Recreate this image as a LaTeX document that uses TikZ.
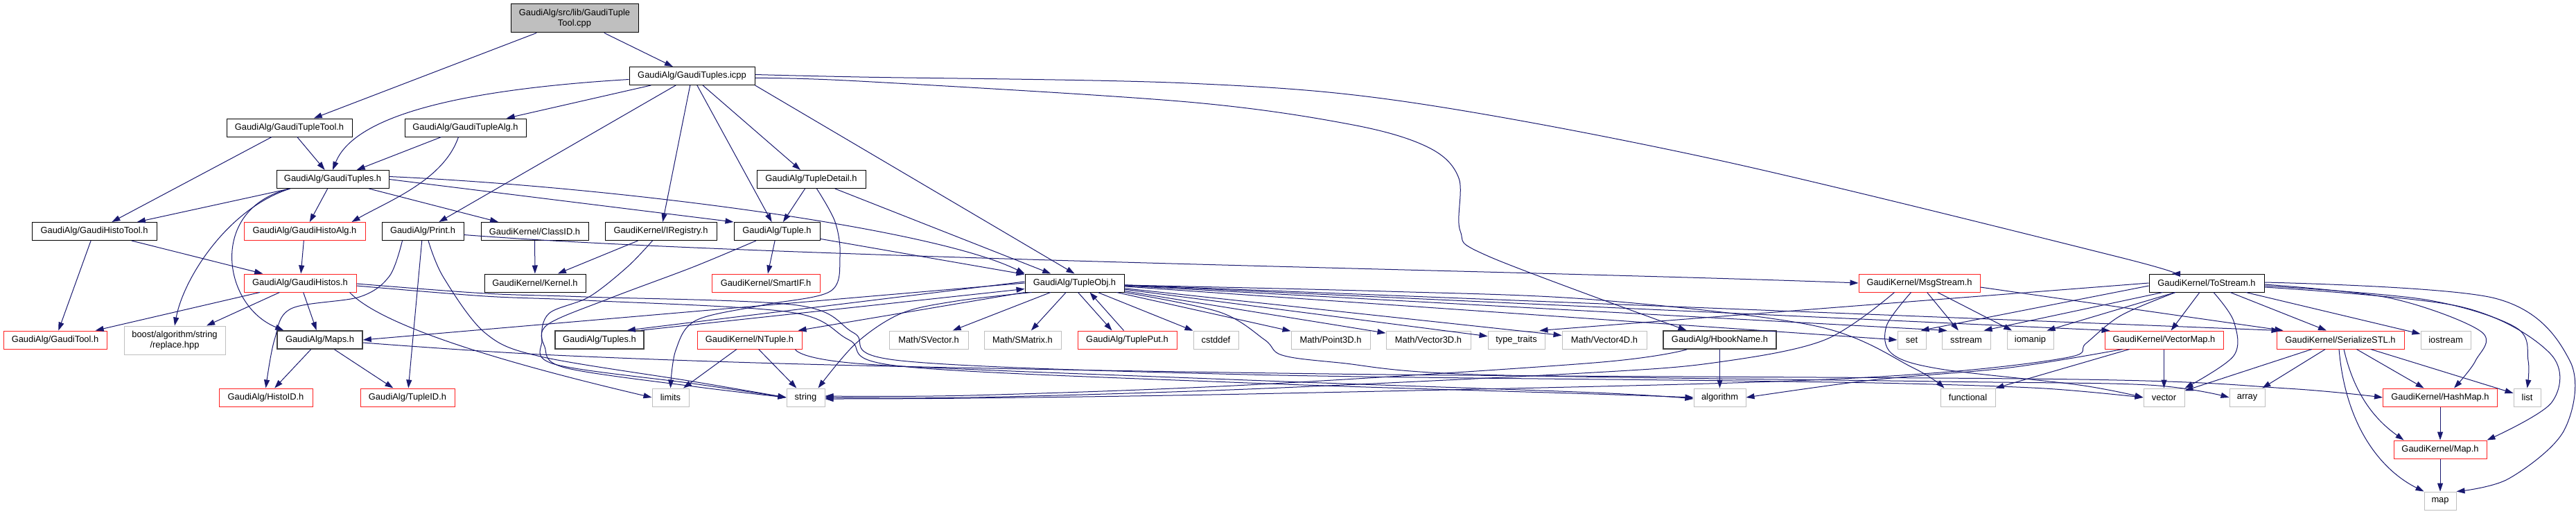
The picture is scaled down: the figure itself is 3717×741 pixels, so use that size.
\documentclass[tikz,border=0pt]{standalone}
\usepackage{fontspec}
\setmainfont{Liberation Sans}
\usetikzlibrary{arrows.meta}
\definecolor{edgec}{HTML}{191970}
\definecolor{redb}{HTML}{FF2020}
\definecolor{grayb}{HTML}{BFBFBF}
\definecolor{darkb}{HTML}{404040}
\definecolor{rootf}{HTML}{BFBFBF}
\newcommand\nodefont{\fontsize{12.9}{15}\selectfont}
\begin{document}
\begin{tikzpicture}[x=1pt,y=-1pt,
  nb/.style={draw=black, line width=1pt, inner sep=0pt, minimum height=26pt, font=\nodefont, fill=white},
  rb/.style={nb, draw=redb},
  gb/.style={nb, draw=grayb},
  db/.style={nb, draw=darkb, line width=1.6pt},
  e/.style={draw=edgec, line width=1pt, -{Triangle[length=12pt,width=8pt]}},
  sm/.style={smooth, tension=0.55}]
\fill[white] (0,0) rectangle (3717,741);
\useasboundingbox (0,0) rectangle (3717,741);
% ---------- nodes ----------
\node[nb, fill=rootf, minimum width=184pt, minimum height=41pt, align=center] (root) at (829,26.5) {GaudiAlg/src/lib/GaudiTuple\\Tool.cpp};
\node[nb, minimum width=181pt] (icpp) at (998.5,109.5) {GaudiAlg/GaudiTuples.icpp};
\node[nb, minimum width=181pt] (tupletool) at (417.5,184) {GaudiAlg/GaudiTupleTool.h};
\node[nb, minimum width=175pt] (tuplealg) at (671.5,184) {GaudiAlg/GaudiTupleAlg.h};
\node[nb, minimum width=162pt] (tuplesh) at (480,258.5) {GaudiAlg/GaudiTuples.h};
\node[nb, minimum width=157pt] (detail) at (1170.5,258.5) {GaudiAlg/TupleDetail.h};
\node[nb, minimum width=180pt] (histotool) at (136,333.5) {GaudiAlg/GaudiHistoTool.h};
\node[rb, minimum width=175pt] (histoalg) at (439.5,333.5) {GaudiAlg/GaudiHistoAlg.h};
\node[nb, minimum width=118pt] (print) at (610,333.5) {GaudiAlg/Print.h};
\node[nb, minimum width=155pt] (classid) at (771.5,333.5) {GaudiKernel/ClassID.h};
\node[nb, minimum width=161pt] (iregistry) at (953.5,333.5) {GaudiKernel/IRegistry.h};
\node[nb, minimum width=124pt] (tuple) at (1121,333.5) {GaudiAlg/Tuple.h};
\node[rb, minimum width=162pt] (histos) at (433,408) {GaudiAlg/GaudiHistos.h};
\node[nb, minimum width=146pt] (kernel) at (772,408) {GaudiKernel/Kernel.h};
\node[rb, minimum width=156pt] (smartif) at (1105,408) {GaudiKernel/SmartIF.h};
\node[nb, minimum width=143pt] (tupleobj) at (1550.5,408) {GaudiAlg/TupleObj.h};
\node[rb, minimum width=175pt] (msgstream) at (2769.5,408) {GaudiKernel/MsgStream.h};
\node[nb, minimum width=166pt] (tostream) at (3184,408) {GaudiKernel/ToStream.h};
\node[rb, minimum width=149pt] (gauditool) at (79.5,490) {GaudiAlg/GaudiTool.h};
\node[gb, minimum width=146pt, minimum height=41pt, align=center] (boost) at (252,490.5) {boost/algorithm/string\\/replace.hpp};
\node[db, minimum width=123pt] (maps) at (461.5,490) {GaudiAlg/Maps.h};
\node[db, minimum width=128pt] (tuplesdot) at (865,490) {GaudiAlg/Tuples.h};
\node[rb, minimum width=151pt] (ntuple) at (1081.5,490) {GaudiKernel/NTuple.h};
\node[gb, minimum width=114pt] (svector) at (1340,490) {Math/SVector.h};
\node[gb, minimum width=111pt] (smatrix) at (1475.5,490) {Math/SMatrix.h};
\node[rb, minimum width=143pt] (tupleput) at (1626.5,490) {GaudiAlg/TuplePut.h};
\node[gb, minimum width=65pt] (cstddef) at (1754.5,490) {cstddef};
\node[gb, minimum width=114pt] (point3d) at (1920,490) {Math/Point3D.h};
\node[gb, minimum width=122pt] (vector3d) at (2061,490) {Math/Vector3D.h};
\node[gb, minimum width=82pt] (typetraits) at (2188,490) {type\_traits};
\node[gb, minimum width=122pt] (vector4d) at (2315,490) {Math/Vector4D.h};
\node[db, minimum width=163pt] (hbook) at (2481.5,490) {GaudiAlg/HbookName.h};
\node[gb, minimum width=41pt] (set) at (2758.5,490) {set};
\node[gb, minimum width=70pt] (sstream) at (2837,490) {sstream};
\node[gb, minimum width=67pt] (iomanip) at (2929.5,490) {iomanip};
\node[rb, minimum width=171pt] (vectormap) at (3122.5,490) {GaudiKernel/VectorMap.h};
\node[rb, minimum width=184pt] (serialize) at (3377,490) {GaudiKernel/SerializeSTL.h};
\node[gb, minimum width=72pt] (iostream) at (3529,490) {iostream};
\node[rb, minimum width=135pt] (histoid) at (383.5,573) {GaudiAlg/HistoID.h};
\node[rb, minimum width=136pt] (tupleid) at (588,573) {GaudiAlg/TupleID.h};
\node[gb, minimum width=53pt] (limits) at (967.5,573) {limits};
\node[gb, minimum width=55pt] (string) at (1162.5,573) {string};
\node[gb, minimum width=75pt] (algorithm) at (2481.5,573) {algorithm};
\node[gb, minimum width=79pt] (functional) at (2839.5,573) {functional};
\node[gb, minimum width=59pt] (vector) at (3122.5,573) {vector};
\node[gb, minimum width=51pt] (array) at (3242.5,573) {array};
\node[rb, minimum width=165pt] (hashmap) at (3521,573) {GaudiKernel/HashMap.h};
\node[gb, minimum width=39pt] (list) at (3646.5,573) {list};
\node[rb, minimum width=134pt] (mapH) at (3521,648) {GaudiKernel/Map.h};
\node[gb, minimum width=46pt] (map) at (3521,722) {map};
% ---------- edges ----------
\draw[e] (root) -- (tupletool);
\draw[e] (root) -- (icpp);
% icpp
\draw[e] ([yshift=-5pt]icpp.west) .. controls (650,130) and (510,170) .. (tuplesh.north);
\draw[e] (icpp) -- (tuplealg);
\draw[e] (icpp) -- (print);
\draw[e] (icpp) -- (iregistry);
\draw[e] (icpp) -- (tuple);
\draw[e] (icpp) -- (detail);
\draw[e] (icpp.south east) -- (tupleobj.north);
\draw[e] plot[sm] coordinates {([yshift=-3pt]icpp.east) (1240,117) (1714,147) (1952,180) (2062,213) (2105,257) (2107,333) (2149,370) ([xshift=-48pt]hbook.north)};
\draw[e] plot[sm] coordinates {([yshift=2pt]icpp.east) (1240,111) (1714,120) (2031,147) (2480,231) (3055,370) ([xshift=-50pt]tostream.north)};
% tool / alg
\draw[e] (tupletool) -- (tuplesh);
\draw[e] (tupletool) -- (histotool);
\draw[e] (tuplealg) -- (tuplesh);
\draw[e] ([xshift=-10pt]tuplealg.south) .. controls (640,260) and (560,290) .. ([xshift=-20pt]histoalg.north east);
% GaudiTuples.h
\draw[e] (tuplesh) -- (histotool);
\draw[e] (tuplesh) -- (histoalg);
\draw[e] (tuplesh) -- (classid);
\draw[e] (tuplesh.east) -- (tuple.north west);
\draw[e] ([yshift=4pt]tuplesh.east) .. controls (900,270) and (1350,330) .. (tupleobj.north west);
\draw[e] ([xshift=20pt]tuplesh.south west) .. controls (330,300) and (265,400) .. (boost.north);
\draw[e] ([xshift=20pt]tuplesh.south west) .. controls (300,300) and (320,440) .. ([xshift=10pt]maps.north west);
% detail
\draw[e] (detail) -- (tuple);
\draw[e] (detail) -- (tupleobj);
\draw[e] plot[sm] coordinates {([xshift=8pt]detail.south) (1205,320) (1212,370) (1198,420) (1100,440) (1004,462) (975,505) (limits.north)};
% tuple
\draw[e] (tuple) -- (smartif);
\draw[e] (tuple) -- (tupleobj);
\draw[e] plot[sm] coordinates {([xshift=-30pt]tuple.south) (1000,385) (880,430) (790,468) (786,500) (815,530) (1000,557) (string.west)};
% classid, iregistry
\draw[e] (classid) -- (kernel);
\draw[e] (iregistry) -- (kernel);
\draw[e] plot[sm] coordinates {([xshift=-12pt]iregistry.south) (905,385) (850,428) (792,452) (782,490) (800,525) (1000,553) (string.west)};
% print
\draw[e] plot[sm] coordinates {([xshift=30pt]print.south west) (562,398) (519,428) (420,445) (396,490) (histoid.north)};
\draw[e] (print) -- (tupleid);
\draw[e] plot[sm] coordinates {([xshift=8pt]print.south) (640,400) (700,480) (780,514) (1000,550) (string.west)};
\draw[e] ([yshift=-5pt]print.east) .. controls (1100,372) and (2200,390) .. (msgstream.west);
% histotool, histoalg
\draw[e] (histotool) -- (gauditool);
\draw[e] (histotool) -- (histos);
\draw[e] (histoalg) -- (histos);
% histos
\draw[e] (histos) -- (gauditool);
\draw[e] (histos) -- (boost);
\draw[e] (histos) -- (maps);
\draw[e] ([xshift=-10pt]histos.south east) .. controls (560,480) and (800,540) .. (limits.west);
\draw[e] plot[sm] coordinates {([yshift=-1pt]histos.east) (700,423) (845,428) (1150,440) (1232,480) (1300,520) (1800,540) (2500,549) (2750,553) (2950,560) (vector.west)};
\draw[e] plot[sm] coordinates {([yshift=-4pt]histos.east) (700,427) (845,433) (1140,450) (1225,490) (1300,528) (1800,552) (2300,568) (algorithm.west)};
% maps
\draw[e] (maps) -- (histoid);
\draw[e] (maps) -- (tupleid);
\draw[e] plot[sm] coordinates {([yshift=-4pt]maps.east) (800,512) (1240,527) (2000,540) (3000,547) (3300,560) (hashmap.west)};
% tupleobj
\draw[e] (tupleobj) -- (svector);
\draw[e] (tupleobj) -- (smatrix);
\draw[e] ([xshift=5pt]tupleobj.south) -- ([xshift=-22pt]tupleput.north);
\draw[e] ([xshift=-5pt]tupleput.north) -- ([xshift=22pt]tupleobj.south);
\draw[e] (tupleobj) -- (cstddef);
\draw[e] (tupleobj) -- (point3d);
\draw[e] (tupleobj) -- (vector3d);
\draw[e] (tupleobj) -- (typetraits);
\draw[e] (tupleobj) -- (vector4d);
\draw[e] (tupleobj) -- (set.west);
\draw[e] (tupleobj) -- ([xshift=8pt]sstream.north west);
\draw[e] (tupleobj) -- ([xshift=8pt]vectormap.north west);
\draw[e] (tupleobj) -- ([xshift=5pt]serialize.north west);
\draw[e] plot[sm] coordinates {([yshift=-3pt]tupleobj.east) (2000,420) (2300,432) (2620,470) (2760,530) ([xshift=6pt]functional.north west)};
\draw[e] plot[sm] coordinates {(tupleobj.south east) (1760,450) (1825,490) (1850,512) (1933,523) (2133,540) (2800,550) (3100,555) (array.west)};
\draw[e] (tupleobj.west) -- (maps.east);
\draw[e] ([yshift=2pt]tupleobj.west) -- ([xshift=-25pt]tuplesdot.north east);
\draw[e] ([xshift=-5pt]tuplesdot.north east) -- ([yshift=5pt]tupleobj.south west);
\draw[e] (tupleobj.south west) -- ([xshift=-6pt]ntuple.north east);
\draw[e] plot[sm] coordinates {([xshift=10pt]tupleobj.south west) (1380,434) (1300,452) (1235,495) ([xshift=-10pt]string.north east)};
% ntuple
\draw[e] (ntuple) -- (limits);
\draw[e] (ntuple) -- (string);
\draw[e] plot[sm] coordinates {([xshift=-10pt]ntuple.south east) (1250,525) (1800,548) (2300,566) ([yshift=-2pt]algorithm.west)};
% hbook
\draw[e] (hbook) -- (algorithm);
\draw[e] plot[sm] coordinates {([xshift=35pt]hbook.south west) (2300,523) (1800,555) (1400,570) ([yshift=2pt]string.east)};
% msgstream
\draw[e] plot[sm] coordinates {([xshift=-36pt]msgstream.south) (2633,490) (2480,522) (2300,537) (1800,561) (1400,573) (string.east)};
\draw[e] plot[sm] coordinates {([xshift=-12pt]msgstream.south) (2722,470) (2730,510) (2800,532) (3000,555) (vector.west)};
\draw[e] (msgstream) -- (sstream);
\draw[e] (msgstream) -- (iomanip);
\draw[e] ([yshift=-6pt]msgstream.east) -- ([xshift=10pt]serialize.north west);
% tostream
\draw[e] (tostream.west) -- ([xshift=-8pt]typetraits.north east);
\draw[e] ([yshift=-4pt]tostream.west) -- ([xshift=-8pt]set.north east);
\draw[e] (tostream) -- ([xshift=-10pt]sstream.north east);
\draw[e] (tostream) -- ([xshift=-10pt]iomanip.north east);
\draw[e] (tostream) -- (vectormap);
\draw[e] plot[sm] coordinates {([xshift=10pt]tostream.south) (3223,463) (3223,513) (vector.north east)};
\draw[e] (tostream) -- ([xshift=-20pt]serialize.north);
\draw[e] (tostream) -- (iostream);
\draw[e] plot[sm] coordinates {([xshift=-45pt]tostream.south) (3060,455) (3010,495) (2985,515) (2800,537) (2500,552) (1800,568) (1400,574) ([yshift=-2pt]string.east)};
\draw[e] plot[sm] coordinates {([yshift=-2pt]tostream.east) (3450,430) (3580,478) (3572,520) ([xshift=20pt]hashmap.north)};
\draw[e] plot[sm] coordinates {([yshift=-4pt]tostream.east) (3500,432) (3630,472) (3648,520) (list.north)};
\draw[e] plot[sm] coordinates {([yshift=-6pt]tostream.east) (3550,442) (3680,510) (3682,580) (mapH.north east)};
\draw[e] plot[sm] coordinates {([yshift=1pt]tostream.east) (3600,430) (3708,520) (3700,620) (3620,690) (map.north east)};
% vectormap
\draw[e] (vectormap) -- (vector);
\draw[e] ([xshift=-50pt]vectormap.south) -- (functional.north east);
\draw[e] plot[sm] coordinates {([xshift=-60pt]vectormap.south) (2900,530) (2700,548) (algorithm.east)};
% serialize
\draw[e] (serialize) -- (vector);
\draw[e] (serialize) -- (array);
\draw[e] (serialize) -- (hashmap);
\draw[e] (serialize) -- (list);
\draw[e] ([xshift=5pt]serialize.south) .. controls (3395,560) and (3420,600) .. ([xshift=15pt]mapH.north west);
\draw[e] ([xshift=-2pt]serialize.south) .. controls (3385,620) and (3440,680) .. (map.north west);
% hashmap, map
\draw[e] (hashmap) -- (mapH);
\draw[e] (mapH) -- (map);
\end{tikzpicture}
\end{document}
